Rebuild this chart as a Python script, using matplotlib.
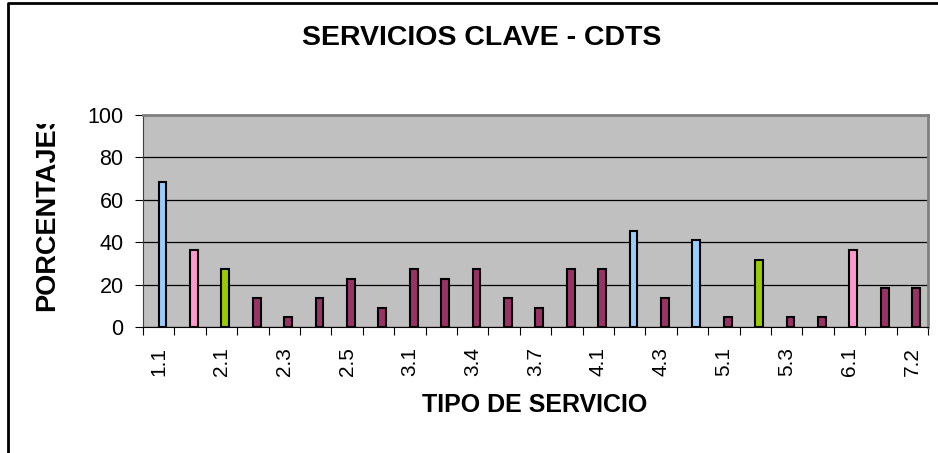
import matplotlib
matplotlib.use("Agg")
import matplotlib.pyplot as plt
from matplotlib.lines import Line2D
from matplotlib.transforms import Bbox

plt.rcParams['font.family'] = ['Liberation Sans', 'DejaVu Sans']

# categories (only every other one is labelled in the chart)
categories = ['1.1', '1.2', '2.1', '2.2', '2.3', '2.4', '2.5', '2.6', '3.1', '3.2',
              '3.4', '3.5', '3.7', '3.8', '4.1', '4.2', '4.3', '4.4', '5.1', '5.2',
              '5.3', '5.4', '6.1', '7.1', '7.2']
values = [68.2, 36.4, 27.3, 13.6, 4.5, 13.6, 22.7, 9.1, 27.3, 22.7,
          27.3, 13.6, 9.1, 27.3, 27.3, 45.5, 13.6, 40.9, 4.5, 31.8,
          4.5, 4.5, 36.4, 18.2, 18.2]
groups = ['a', 'b', 'c', 'd', 'd', 'd', 'd', 'd', 'd', 'd',
          'd', 'd', 'd', 'd', 'd', 'a', 'd', 'a', 'd', 'c',
          'd', 'd', 'b', 'd', 'd']
palette = {'a': '#99CCFF', 'b': '#FF99CC', 'c': '#99CC00', 'd': '#993366'}
yticks = [0, 20, 40, 60, 80, 100]

W, H = 938, 453
fig = plt.figure(figsize=(W / 100, H / 100), dpi=100)
ax = fig.add_axes([143 / W, 1 - 327 / H, 785 / W, 212 / H])
ax.set_facecolor('#C0C0C0')

pos = [i + 0.12 for i in range(len(categories))]
ax.bar(pos, values, width=0.25, color=[palette[g] for g in groups],
       edgecolor='black', linewidth=1.5, zorder=3)

ax.set_xlim(-0.5, len(categories) - 0.5)
ax.set_ylim(0, 100)
ax.set_yticks(yticks)
ax.yaxis.grid(True, color='black', linewidth=0.9, zorder=1)
ax.set_axisbelow(True)

# ticks between categories, labels on every other category
ax.set_xticks([i - 0.5 for i in range(len(categories) + 1)])
ax.set_xticklabels([])
ax.set_xticks(range(0, len(categories), 2), minor=True)
ax.set_xticklabels(categories[::2], minor=True, rotation=90, fontsize=15)
ax.tick_params(axis='x', which='major', length=5.5, width=0.8, color='black')
ax.tick_params(axis='x', which='minor', length=0, pad=14.5)
ax.tick_params(axis='y', length=6, width=0.8, labelsize=15.5, pad=8)

for s in ['top', 'right']:
    ax.spines[s].set_color('#808080')
    ax.spines[s].set_linewidth(2)
ax.spines['left'].set_color('#404040')
ax.spines['bottom'].set_color('black')

fig.text(0.513, 1 - 38 / H, 'SERVICIOS CLAVE - CDTS', ha='center', va='center',
         fontsize=20.5, fontweight='bold')
fig.text(535 / W, 1 - 405 / H, 'TIPO DE SERVICIO', ha='center', va='center',
         fontsize=18, fontweight='bold')
yl = fig.text(47 / W, 1 - 210 / H, 'PORCENTAJES', ha='center', va='center',
              rotation=90, fontsize=19.5, fontweight='bold')
yl.set_clip_box(Bbox([[0, 0], [W, H - 124]]))
yl.set_clip_on(True)

# outer chart frame (cropped on right and bottom)
fig.add_artist(Line2D([8 / W, 8 / W, 1.0], [0, 1 - 3 / H, 1 - 3 / H],
                      transform=fig.transFigure, color='black', linewidth=2))

fig.savefig('out.png', dpi=100)
